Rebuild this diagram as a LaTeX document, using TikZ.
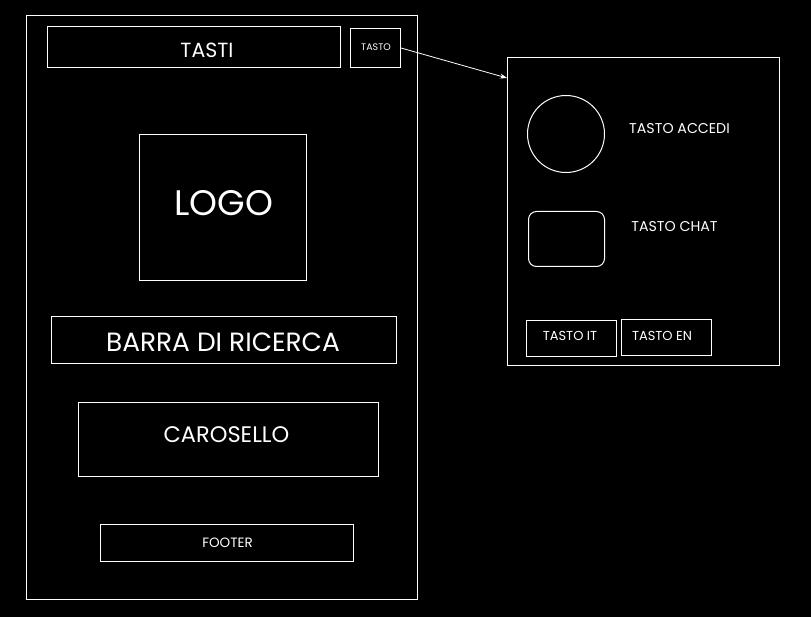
\documentclass[tikz,border=0pt]{standalone}
\usepackage{fontspec}
\setmainfont{Poppins}
\usetikzlibrary{arrows.meta}
\begin{document}
\begin{tikzpicture}[x=1pt,y=-1pt,
  frame/.style={draw=white,line width=1pt,inner sep=0pt,anchor=north west},
  lbl/.style={text=white,inner sep=0pt,anchor=center},
  conn/.style={draw=white,line width=0.8pt,-{Stealth[length=7pt,width=5pt]}}]
\fill[black] (0,0) rectangle (811,617);
\useasboundingbox (0,0) rectangle (811,617);
% left page
\node[frame,minimum width=391pt,minimum height=584pt] (page) at (26,15) {};
\node[frame,minimum width=293pt,minimum height=41pt] (tasti) at (47,26) {};
\node[frame,minimum width=50pt,minimum height=39pt] (tasto) at (350,28) {};
\node[frame,minimum width=167pt,minimum height=146pt] (logo) at (139,134) {};
\node[frame,minimum width=345pt,minimum height=47pt] (barra) at (51,316) {};
\node[frame,minimum width=300pt,minimum height=74pt] (carosello) at (78,402) {};
\node[frame,minimum width=253pt,minimum height=37pt] (footer) at (100,524) {};
\node[lbl,font=\fontsize{20.5}{20}\selectfont] (tastit) at (207,50) {TASTI};
\node[lbl,font=\fontsize{9.5}{10}\selectfont] (tastot) at (376,47) {TASTO};
\node[lbl,font=\fontsize{35.5}{35}\selectfont] (logot) at (224,203) {LOGO};
\node[lbl,font=\fontsize{26.4}{26}\selectfont] (barrat) at (223,342) {BARRA DI RICERCA};
\node[lbl,font=\fontsize{22.5}{23}\selectfont] (carosellot) at (226.5,435) {CAROSELLO};
\node[lbl,font=\fontsize{13.5}{14}\selectfont] (footert) at (227.5,543) {FOOTER};
% right panel
\node[frame,minimum width=272pt,minimum height=308pt] (panel) at (507,57) {};
\node[draw=white,line width=1pt,circle,inner sep=0pt,minimum size=77pt] (accedi) at (566,134) {};
\node[frame,rounded corners=8pt,minimum width=76pt,minimum height=55pt] (chat) at (528,211) {};
\node[frame,minimum width=90pt,minimum height=36pt] (tit) at (526,320) {};
\node[frame,minimum width=90pt,minimum height=36pt] (ten) at (621,319) {};
\node[lbl,font=\fontsize{14.2}{14}\selectfont] (accedit) at (679.5,129) {TASTO ACCEDI};
\node[lbl,font=\fontsize{14.2}{14}\selectfont] (chatt) at (674.5,227) {TASTO CHAT};
\node[lbl,font=\fontsize{13}{13}\selectfont] (titt) at (570,336) {TASTO IT};
\node[lbl,font=\fontsize{13}{13}\selectfont] (tent) at (662,336) {TASTO EN};
% connector
\coordinate (arrowend) at (507,78);
\draw[conn] (tasto.east) -- (arrowend);
\end{tikzpicture}
\end{document}
